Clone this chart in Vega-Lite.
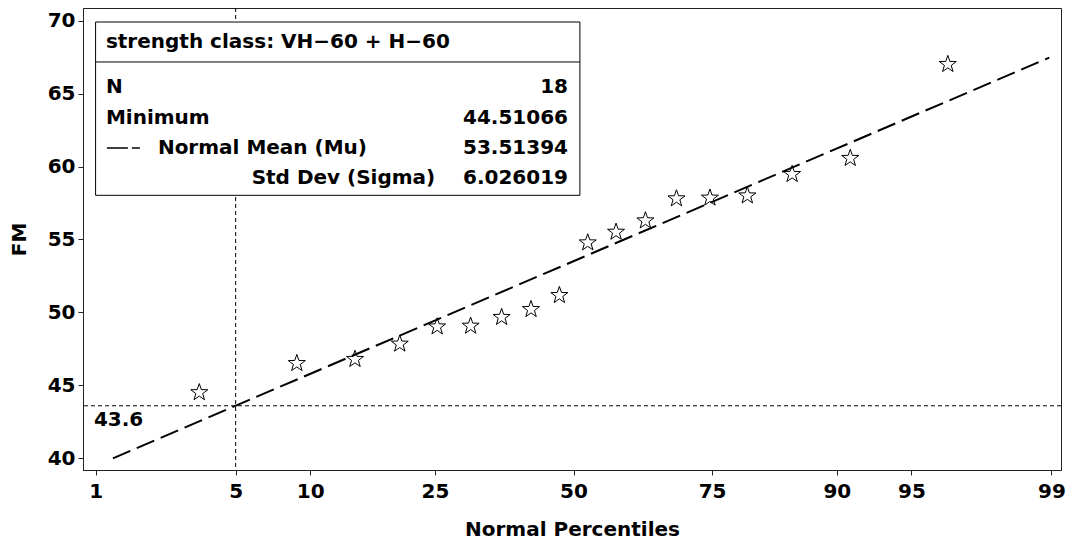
{
  "$schema": "https://vega.github.io/schema/vega-lite/v6.json",
  "width": 978,
  "height": 462,
  "autosize": "none",
  "padding": {"left": 83, "top": 8, "right": 6, "bottom": 74},
  "background": "white",
  "config": {
    "view": {"stroke": "#222222", "strokeWidth": 1},
    "font": "DejaVu Sans",
    "axis": {
      "grid": false,
      "domainColor": "#222222",
      "tickColor": "#222222",
      "tickSize": 5,
      "labelFont": "DejaVu Sans",
      "labelFontWeight": "bold",
      "labelFontSize": 20,
      "labelColor": "#000000",
      "titleFont": "DejaVu Sans",
      "titleFontWeight": "bold",
      "titleFontSize": 20,
      "titleColor": "#000000",
      "labelFlush": false,
      "labelOverlap": false
    }
  },
  "datasets": {
    "points": [
      {"z": -1.822, "v": 44.51},
      {"z": -1.347, "v": 46.51},
      {"z": -1.064, "v": 46.79},
      {"z": -0.846, "v": 47.84},
      {"z": -0.664, "v": 49.02},
      {"z": -0.501, "v": 49.07},
      {"z": -0.350, "v": 49.67},
      {"z": -0.207, "v": 50.21},
      {"z": -0.069, "v": 51.17},
      {"z": 0.069, "v": 54.78},
      {"z": 0.207, "v": 55.51},
      {"z": 0.350, "v": 56.29},
      {"z": 0.501, "v": 57.8},
      {"z": 0.664, "v": 57.85},
      {"z": 0.846, "v": 58.0},
      {"z": 1.064, "v": 59.47},
      {"z": 1.347, "v": 60.57},
      {"z": 1.822, "v": 67.01}
    ],
    "fit": [
      {"z": -2.2426, "v": 40.0},
      {"z": 2.316, "v": 67.47}
    ],
    "refx": [{"z": -1.6449}],
    "refy": [{"v": 43.6}],
    "reflabel": [{"z": -2.335, "v": 42.63, "label": "43.6"}],
    "box": [{"z": -2.3267, "z2": 0.031, "v": 69.91, "v2": 58.03}],
    "sep": [{"z": -2.3267, "z2": 0.031, "v": 67.17}],
    "dash": [{"z": -2.2717, "z2": -2.111, "v": 61.27}],
    "ltext": [
      {"z": -2.2765, "v": 68.56, "label": "strength class: VH−60 + H−60"},
      {"z": -2.2765, "v": 65.45, "label": "N"},
      {"z": -2.2765, "v": 63.33, "label": "Minimum"},
      {"z": -2.0234, "v": 61.27, "label": "Normal Mean (Mu)"},
      {"z": -1.567, "v": 59.22, "label": "Std Dev (Sigma)"}
    ],
    "rtext": [
      {"z": -0.027, "v": 65.45, "label": "18"},
      {"z": -0.027, "v": 63.33, "label": "44.51066"},
      {"z": -0.027, "v": 61.27, "label": "53.51394"},
      {"z": -0.027, "v": 59.22, "label": "6.026019"}
    ]
  },
  "encoding": {
    "x": {
      "field": "z",
      "type": "quantitative",
      "scale": {"domain": [-2.388, 2.373], "nice": false, "zero": false},
      "axis": {
        "title": "Normal Percentiles",
        "values": [-2.3263, -1.6449, -1.2816, -0.6745, 0, 0.6745, 1.2816, 1.6449, 2.3263],
        "labelExpr": "datum.value < -2 ? '1' : datum.value < -1.5 ? '5' : datum.value < -1 ? '10' : datum.value < -0.3 ? '25' : datum.value < 0.3 ? '50' : datum.value < 1 ? '75' : datum.value < 1.5 ? '90' : datum.value < 2 ? '95' : '99'",
        "labelPadding": 6,
        "titlePadding": 18
      }
    },
    "y": {
      "field": "v",
      "type": "quantitative",
      "scale": {"domain": [39.198, 70.87], "nice": false, "zero": false},
      "axis": {
        "title": "FM",
        "values": [40, 45, 50, 55, 60, 65, 70],
        "labelPadding": 3,
        "titlePadding": 18
      }
    }
  },
  "layer": [
    {
      "data": {"name": "refx"},
      "mark": {"type": "rule", "color": "#000000", "strokeWidth": 1, "strokeDash": [4, 3]},
      "encoding": {"y": null}
    },
    {
      "data": {"name": "refy"},
      "mark": {"type": "rule", "color": "#000000", "strokeWidth": 1, "strokeDash": [4, 3]},
      "encoding": {"x": null}
    },
    {
      "data": {"name": "fit"},
      "mark": {"type": "line", "color": "#000000", "strokeWidth": 2, "strokeDash": [19, 7]},
      "encoding": {}
    },
    {
      "data": {"name": "points"},
      "mark": {
        "type": "point",
        "shape": "M0,-1L0.235,-0.324L0.951,-0.309L0.38,0.124L0.588,0.809L0,0.4L-0.588,0.809L-0.38,0.124L-0.951,-0.309L-0.235,-0.324Z",
        "size": 320,
        "filled": false,
        "stroke": "#000000",
        "strokeWidth": 1,
        "opacity": 1
      },
      "encoding": {}
    },
    {
      "data": {"name": "reflabel"},
      "mark": {"type": "text", "align": "left", "baseline": "middle", "font": "DejaVu Sans", "fontWeight": "bold", "fontSize": 20, "color": "#000000"},
      "encoding": {"text": {"field": "label"}}
    },
    {
      "data": {"name": "box"},
      "mark": {"type": "rect", "fill": "#ffffff", "stroke": "#000000", "strokeWidth": 1},
      "encoding": {"x2": {"field": "z2"}, "y2": {"field": "v2"}}
    },
    {
      "data": {"name": "sep"},
      "mark": {"type": "rule", "color": "#000000", "strokeWidth": 1},
      "encoding": {"x2": {"field": "z2"}}
    },
    {
      "data": {"name": "dash"},
      "mark": {"type": "rule", "color": "#000000", "strokeWidth": 1.5, "strokeDash": [21, 4]},
      "encoding": {"x2": {"field": "z2"}}
    },
    {
      "data": {"name": "ltext"},
      "mark": {"type": "text", "align": "left", "baseline": "middle", "font": "DejaVu Sans", "fontWeight": "bold", "fontSize": 20, "color": "#000000"},
      "encoding": {"text": {"field": "label"}}
    },
    {
      "data": {"name": "rtext"},
      "mark": {"type": "text", "align": "right", "baseline": "middle", "font": "DejaVu Sans", "fontWeight": "bold", "fontSize": 20, "color": "#000000"},
      "encoding": {"text": {"field": "label"}}
    }
  ]
}
